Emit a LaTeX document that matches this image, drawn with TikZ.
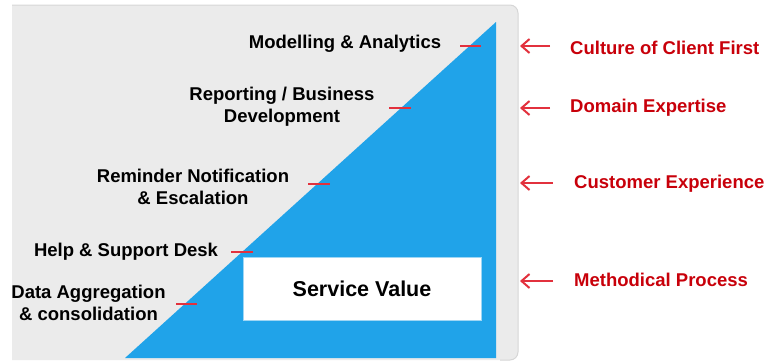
\documentclass[tikz,border=0pt]{standalone}
\usepackage{fontspec}
\setmainfont{Liberation Sans}
\usetikzlibrary{arrows.meta}
\definecolor{panelgray}{HTML}{EBEBEB}
\definecolor{panelborder}{HTML}{D6D6D6}
\definecolor{tri}{HTML}{20A3E9}
\definecolor{dashred}{HTML}{E2313D}
\definecolor{txtred}{HTML}{C8000A}
\definecolor{boxborder}{HTML}{9FD6F4}
\tikzset{
  blk/.style={font=\fontsize{18.5}{22}\selectfont\bfseries, text=black, align=center, inner sep=0pt},
  redlbl/.style={font=\fontsize{18.5}{22}\selectfont\bfseries, text=txtred, anchor=west, inner sep=0pt},
  tick/.style={draw=dashred, line width=2pt},
  pointer/.style={draw=dashred, line width=2pt, -{Straight Barb[length=8pt,width=14pt,line width=2pt]}},
}
\begin{document}
\begin{tikzpicture}[x=1pt,y=-1pt]
\useasboundingbox (0,0) rectangle (766,360);
% panel
\fill[panelgray] (12,5) -- (510,5) arc[start angle=-90,end angle=0,radius=8] -- (518,352) arc[start angle=0,end angle=90,radius=8] -- (12,360) -- cycle;
\draw[panelborder, line width=1pt] (12,5) -- (510,5) arc[start angle=-90,end angle=0,radius=8] -- (518,352) arc[start angle=0,end angle=90,radius=8] -- (500,360);
% triangle
\fill[tri] (125,358) -- (496,22) -- (496,358) -- cycle;
% service value box
\node[draw=boxborder, line width=1pt, fill=white, minimum width=238pt, minimum height=63pt, inner sep=0pt,
  font=\fontsize{21.5}{24}\selectfont\bfseries] (sv) at (362,288.5) {Service Value};
% black labels
\node[blk] (m) at (345,43.5) {Modelling \& Analytics};
\node[blk] (r) at (282,106.5) {Reporting / Business\\Development};
\node[blk] (n) at (193,187) {Reminder Notification\\\& Escalation};
\node[blk] (h) at (126,252) {Help \& Support Desk};
\node[blk] (d) at (88.5,303) {Data Aggregation\\\& consolidation};
% red ticks
\coordinate (t1a) at (460,46); \coordinate (t1b) at (481,46);
\coordinate (t2a) at (389,108); \coordinate (t2b) at (411,108);
\coordinate (t3a) at (308,184); \coordinate (t3b) at (330,184);
\coordinate (t4a) at (231,252); \coordinate (t4b) at (253,252);
\coordinate (t5a) at (176,304); \coordinate (t5b) at (197,304);
\draw[tick] (t1a) -- (t1b);
\draw[tick] (t2a) -- (t2b);
\draw[tick] (t3a) -- (t3b);
\draw[tick] (t4a) -- (t4b);
\draw[tick] (t5a) -- (t5b);
% red labels
\node[redlbl] (c1) at (570,48) {Culture of Client First};
\node[redlbl] (c2) at (570,108) {Domain Expertise};
\node[redlbl] (c3) at (574,184) {Customer Experience};
\node[redlbl] (c4) at (574,280) {Methodical Process};
% arrows
\coordinate (a1s) at (550,46); \coordinate (a1e) at (520,46);
\coordinate (a2s) at (550,108); \coordinate (a2e) at (520,108);
\coordinate (a3s) at (553,183); \coordinate (a3e) at (520,183);
\coordinate (a4s) at (553,281); \coordinate (a4e) at (520,281);
\draw[pointer] (a1s) -- (a1e);
\draw[pointer] (a2s) -- (a2e);
\draw[pointer] (a3s) -- (a3e);
\draw[pointer] (a4s) -- (a4e);
\end{tikzpicture}
\end{document}
